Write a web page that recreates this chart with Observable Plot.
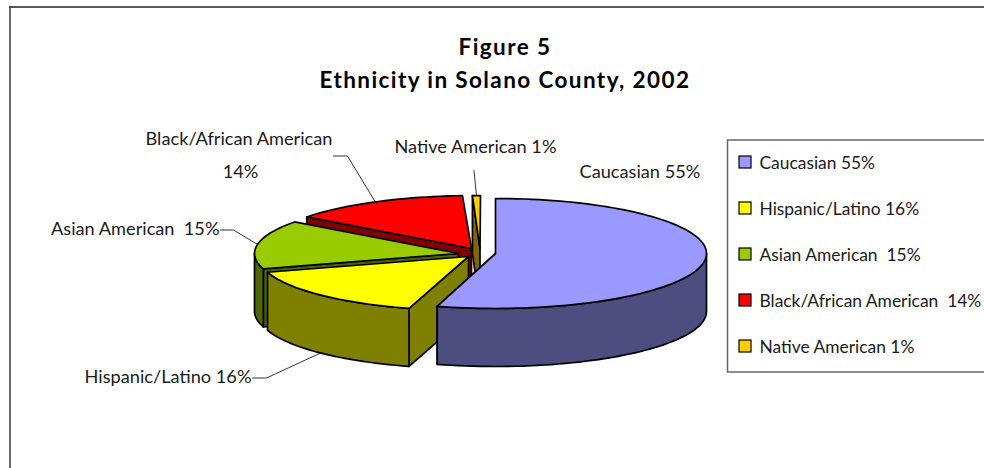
<!DOCTYPE html>
<html>
<head>
<meta charset="utf-8">
<style>
  html, body { margin: 0; padding: 0; background: #fff; overflow: hidden; }
  svg { display: block; }
</style>
<script src="https://cdn.jsdelivr.net/npm/d3@7"></script>
<script src="https://cdn.jsdelivr.net/npm/@observablehq/plot@0.6"></script>
</head>
<body>
<script>
// Ethnic shares of the county population, in percent
const groups = ["Caucasian", "Hispanic/Latino", "Asian American", "Black/African American", "Native American"];
const shares = [55, 16, 15, 14, 1];
const legendLabels = ["Caucasian 55%", "Hispanic/Latino 16%", "Asian American  15%", "Black/African American  14%", "Native American 1%"];
const titleLines = ["Figure 5", "Ethnicity in Solano County, 2002"];

// Top and wall colours of each slice
const topColors = ["#9999ff", "#ffff00", "#99cc00", "#ff0000", "#ffcc00"];
const wallColors = ["#4d4d80", "#808000", "#4d6600", "#800000", "#806600"];

// Pulled-apart pie: where each slice's hub and rim ellipse sit on the page
const wallDepth = 58;
const layout = [
  {hub: [495, 253], arc: [495, 253, 211, 55]},
  {hub: [468, 256], arc: [466, 256, 208, 54]},
  {hub: [458, 253], arc: [458, 253, 204, 53]},
  {hub: [471, 248], arc: [475, 248, 210, 53]},
  {hub: [479.5, 248], arc: [480, 248, 130, 53]}
];

// Leader elbow and callout text placement
const callouts = [
  {lines: [["Caucasian 55%", 579, 177, "start"]]},
  {lines: [["Hispanic/Latino 16%", 251, 382, "end"]], path: [[252, 377.5], [266, 377.5]], onWall: true},
  {lines: [["Asian American  15%", 219, 234, "end"]], path: [[220, 229.5], [233, 229.5]]},
  {lines: [["Black/African American", 238.5, 144, "middle"], ["14%", 240, 177, "middle"]], path: [[333, 155.5], [347, 155.5]]},
  {lines: [["Native American 1%", 394, 152, "start"]], path: [[473.5, 170]]}
];

const total = d3.sum(shares);
const DEG = Math.PI / 180;

// Page position of a rim angle measured clockwise from the top of the pie
const rimPoint = (arc, deg, drop = 0) => [
  arc[0] + arc[2] * Math.sin(deg * DEG),
  arc[1] - arc[3] * Math.cos(deg * DEG) + drop
];

function arcPoints(arc, from, to, drop = 0) {
  const n = Math.max(2, Math.ceil(Math.abs(to - from) / 2));
  return d3.range(n + 1).map(i => rimPoint(arc, from + (to - from) * i / n, drop));
}

let cumulative = 0;
const slices = groups.map((name, i) => {
  const start = cumulative / total * 360;
  cumulative += shares[i];
  const end = cumulative / total * 360;
  return {name, start, end, mid: (start + end) / 2, ...layout[i], top: topColors[i], wall: wallColors[i]};
});

// Faces of one slice, listed in painting order
function sliceFaces(s) {
  const faces = [];
  const add = (suffix, pts, fill) => {
    const closed = [...pts, pts[0]];
    closed.forEach(([x, y]) => faces.push({face: s.name + suffix, x, y, fill}));
  };
  const startRim = rimPoint(s.arc, s.start);
  const endRim = rimPoint(s.arc, s.end);
  const [hx, hy] = s.hub;
  // Cut face on the leading edge, seen for every slice except the first
  if (s.start > 0) {
    add(" cut start", [s.hub, startRim, [startRim[0], startRim[1] + wallDepth], [hx, hy + wallDepth]], s.wall);
  }
  // Cut face on the trailing edge, seen only while it runs towards the viewer
  if (s.end > 90 && s.end < 200) {
    add(" cut end", [s.hub, endRim, [endRim[0], endRim[1] + wallDepth], [hx, hy + wallDepth]], s.wall);
  }
  // Outer wall: only the near half of the rim shows
  const a = Math.max(s.start, 90), b = Math.min(s.end, 270);
  if (b > a) {
    add(" wall", [...arcPoints(s.arc, a, b), ...arcPoints(s.arc, b, a, wallDepth)], s.wall);
  }
  add(" top", [s.hub, ...arcPoints(s.arc, s.start, s.end)], s.top);
  return faces;
}

// Back slices are painted first so the nearer ones overlap them
const paintOrder = [4, 3, 2, 1, 0];
const faces = paintOrder.flatMap(i => sliceFaces(slices[i]));

// Leader lines end on the rim at each slice's middle angle
const leaders = slices.flatMap((s, i) => {
  const c = callouts[i];
  if (!c.path) return [];
  const tip = rimPoint(s.arc, s.mid, c.onWall ? wallDepth : 0);
  return [...c.path, tip].map(([x, y]) => ({id: s.name, x, y}));
});

const calloutText = callouts.flatMap(c => c.lines.map(([text, x, y, anchor]) => ({text, x, y, anchor})));

const legendRows = groups.map((name, i) => ({
  name, label: legendLabels[i], fill: topColors[i], y: 162 + i * 46
}));

const font = "Lato, 'Open Sans', sans-serif";
const ink = "#1a1a1a";

const chart = Plot.plot({
  width: 984,
  height: 468,
  margin: 0,
  style: {fontFamily: font, background: "#fff"},
  x: {domain: [0, 984], range: [0, 984], axis: null},
  y: {domain: [0, 468], range: [0, 468], axis: null},
  color: {type: "identity"},
  marks: [
    // Chart area border, running off the right and bottom of the page
    Plot.ruleY([6.5], {x1: 9.5, x2: 984, stroke: "#222", strokeWidth: 1.5}),
    Plot.ruleX([9.5], {y1: 6, y2: 468, stroke: "#333", strokeWidth: 1.5}),

    Plot.text(titleLines, {
      x: 504.5, y: (d, i) => [50, 83][i], text: d => d,
      fontSize: 22.5, fontWeight: 700, fill: "#000", textAnchor: "middle", lineAnchor: "bottom", dy: 4
    }),

    // Leaders go under the slices so they stop at the rim
    Plot.line(leaders, {x: "x", y: "y", z: "id", stroke: "#333", strokeWidth: 1, curve: "linear"}),

    Plot.line(faces, {
      x: "x", y: "y", z: "face", fill: "fill",
      stroke: "#000", strokeWidth: 1.7, strokeLinejoin: "round", curve: "linear"
    }),

    ...["start", "middle", "end"].map(anchor => Plot.text(calloutText.filter(d => d.anchor === anchor), {
      x: "x", y: "y", text: "text", fontSize: 18.2, fill: ink, textAnchor: anchor, lineAnchor: "bottom"
    })),

    // Legend box, also cut off by the right edge of the page
    Plot.rect([0], {x1: 727.5, x2: 1000, y1: 140, y2: 372, fill: "#fff", stroke: "#666", strokeWidth: 1.5}),
    Plot.rect(legendRows, {
      x1: 739, x2: 751, y1: d => d.y - 6, y2: d => d.y + 6,
      fill: "fill", stroke: "#000", strokeWidth: 1.2
    }),
    Plot.text(legendRows, {
      x: 759, y: "y", dy: 1, text: "label", fontSize: 17.4, fill: ink, textAnchor: "start"
    })
  ]
});

// The heading is set with open tracking
chart.querySelectorAll('text[font-weight="700"], g[font-weight="700"] text').forEach(t => {
  t.style.letterSpacing = "1.4px";
});
document.body.append(chart);
</script>
</body>
</html>
